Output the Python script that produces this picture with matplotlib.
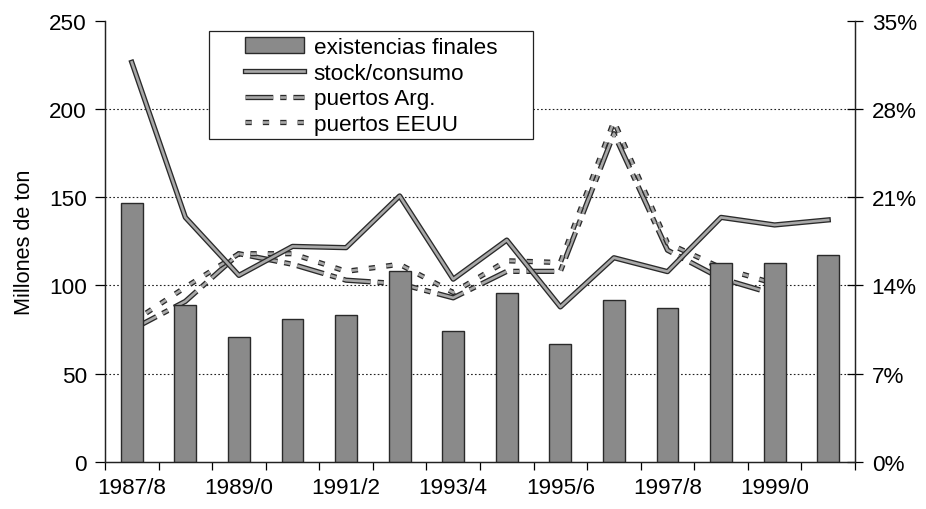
import matplotlib
matplotlib.use("Agg")
import matplotlib.pyplot as plt
import matplotlib.patheffects as pe
from matplotlib.patches import Rectangle
import numpy as np

plt.rcParams['font.family'] = ['Liberation Sans', 'DejaVu Sans']
plt.rcParams['lines.scale_dashes'] = False

categories = ["1987/8", "1988/9", "1989/0", "1990/1", "1991/2", "1992/3", "1993/4",
              "1994/5", "1995/6", "1996/7", "1997/8", "1998/9", "1999/0", "2000/1"]
existencias = [147, 89, 71, 81, 83, 108, 74, 96, 67, 92, 87, 113, 113, 117]
stock_consumo = [31.7, 19.4, 14.8, 17.1, 17.0, 21.1, 14.5, 17.6, 12.3, 16.2, 15.1, 19.4, 18.8, 19.2]
puertos_arg = [75, 91, 118, 112, 103, 101, 93, 108, 108, 186, 120, 104, 95, np.nan]
puertos_eeuu = [79, 99, 118, 118, 108, 112, 96, 114, 113, 193, 124, 110, 101, np.nan]
tick_labels = ["1987/8", "1989/0", "1991/2", "1993/4", "1995/6", "1997/8", "1999/0"]
left_ticks = [0, 50, 100, 150, 200, 250]
right_ticks = [0, 7, 14, 21, 28, 35]

W, H = 926, 510
fig = plt.figure(figsize=(W/100, H/100), dpi=100)
ax = fig.add_axes([105/W, 1-463/H, 750/W, (463-21.7)/H])
ax2 = ax.twinx()

x = np.arange(len(categories))
fs = 16.2

stroke = [pe.Stroke(linewidth=3.8, foreground='#2a2a2a'), pe.Normal()]

bars = ax.bar(x, existencias, width=0.41, color='#8a8a8a', edgecolor='#2a2a2a',
              linewidth=1.0, zorder=3, label='existencias finales')
l_arg, = ax.plot(x, puertos_arg, color='#a8a8a8', lw=1.9,
                 linestyle=(0, (20, 5, 4.5, 5)), zorder=2, path_effects=stroke,
                 label='puertos Arg.')
l_us, = ax.plot(x, puertos_eeuu, color='#a8a8a8', lw=1.9,
                linestyle=(0, (4.5, 8)), zorder=2, path_effects=stroke,
                label='puertos EEUU')
l_sc, = ax2.plot(x, stock_consumo, color='#a8a8a8', lw=1.9, zorder=3,
                 path_effects=stroke, label='stock/consumo')

ax.set_xlim(-0.5, len(categories) - 0.5)
ax.set_ylim(0, 250)
ax2.set_ylim(0, 35)
ax.set_yticks(left_ticks)
ax2.set_yticks(right_ticks)
ax2.set_yticklabels([f"{v}%" for v in right_ticks])

for v in left_ticks[1:-1]:
    ax.axhline(v, color='#222222', lw=0.8, linestyle=(0, (1.2, 1.6)), zorder=1)

label_pos = [categories.index(t) for t in tick_labels]
ax.set_xticks(label_pos)
ax.set_xticklabels(tick_labels)
ax.set_xticks(np.arange(-0.5, len(categories), 1.0), minor=True)
ax.tick_params(axis='x', which='major', length=0, labelsize=fs, pad=11)
ax.tick_params(axis='x', which='minor', length=6, width=0.9, direction='out')
ax.tick_params(axis='y', length=7, width=0.9, direction='out', labelsize=fs, pad=6)
ax2.tick_params(axis='y', length=12, width=0.9, direction='inout', labelsize=fs, pad=6)

for a in (ax, ax2):
    a.spines['top'].set_visible(False)
    for s in ('left', 'right', 'bottom'):
        a.spines[s].set_linewidth(0.9)
        a.spines[s].set_color('#222222')

ax.set_ylabel('Millones de ton', fontsize=fs - 0.6, labelpad=10)

# legend frame (Excel-style box)
frame = Rectangle((209/W, 1-140/H), (533-209)/W, (140-32)/H, transform=fig.transFigure,
                  facecolor='white', edgecolor='#222222', linewidth=0.9, zorder=9)
ax2.add_artist(frame)
leg = ax2.legend([bars, l_sc, l_arg, l_us],
                 ['existencias finales', 'stock/consumo', 'puertos Arg.', 'puertos EEUU'],
                 loc='upper left', bbox_to_anchor=(245/W, 1-38/H),
                 bbox_transform=fig.transFigure, borderaxespad=0, borderpad=0,
                 fontsize=fs, frameon=False, handlelength=2.6, handletextpad=0.45,
                 labelspacing=0.21)
leg.set_zorder(10)

fig.savefig('out.png', dpi=100)
